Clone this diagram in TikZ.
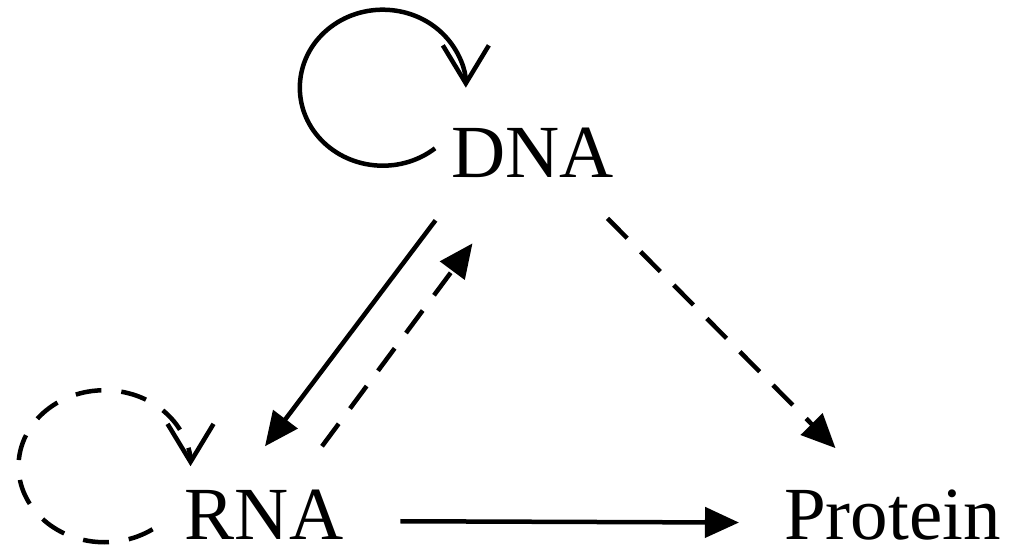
\documentclass[tikz,border=0pt]{standalone}
\usepackage{fontspec}
\setmainfont{Liberation Serif}
\usetikzlibrary{arrows.meta,positioning}

\begin{document}
\begin{tikzpicture}[
  x=1pt,y=1pt,
  word/.style={inner sep=0pt,anchor=base,font=\fontsize{75}{80}\selectfont},
  arrow/.style={-{Triangle[length=34pt,width=30pt]},line width=4.5pt},
  dasharrow/.style={arrow,dash pattern=on 28pt off 19pt},
  selfloop/.style={-{Straight Barb[length=38pt,width=46pt]},line width=4.5pt}
]
\useasboundingbox (0,0) rectangle (1025,550);
\node[word] (dna) at (532.5,373) {DNA};
\node[word] (rna) at (264,11) {RNA};
\node[word] (protein) at (892.5,11) {Protein};
% self loops
\draw[selfloop] ([xshift=-16pt,yshift=4pt]dna.west)
  arc[start angle=-51,end angle=-360,x radius=83,y radius=78];
\draw[selfloop,dash pattern=on 26pt off 20pt] ([xshift=-32pt,yshift=-15pt]rna.west)
  arc[start angle=-56,end angle=-360,x radius=86,y radius=76];
% transfers
\draw[arrow] ([xshift=-97pt,yshift=-43pt]dna.south)--([xshift=1pt,yshift=43pt]rna.north);
\draw[dasharrow] ([xshift=58pt,yshift=43pt]rna.north)--([xshift=-60pt,yshift=-66pt]dna.south);
\draw[dasharrow] ([xshift=75pt,yshift=-41pt]dna.south)--([xshift=-57pt,yshift=41pt]protein.north);
\draw[arrow] ([xshift=57pt,yshift=-7pt]rna.east)--([xshift=-45pt,yshift=-8pt]protein.west);
\end{tikzpicture}
\end{document}
